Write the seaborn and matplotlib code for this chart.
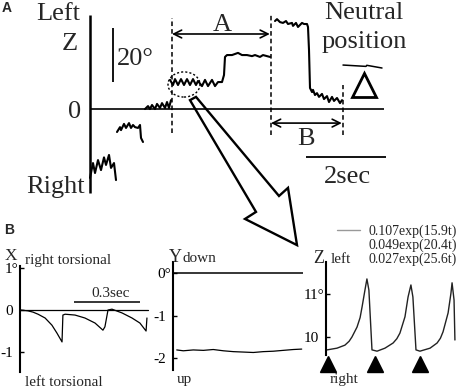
import numpy as np
import pandas as pd
import matplotlib
matplotlib.use('Agg')
import matplotlib.pyplot as plt
import seaborn as sns
from matplotlib.patches import Ellipse, Polygon

# ---------------- data: panel A (time in s, Z angle in deg) ----------------
a_seg1_t = [0.0, 0.075, 0.125, 0.2, 0.275, 0.35, 0.4, 0.475, 0.525, 0.6, 0.65]
a_seg1_z = [-25.7, -20.2, -23.9, -19.1, -22.8, -18.1, -20.9, -17.2, -22.0, -20.2, -26.5]

a_seg2_t = [0.675, 0.75, 0.775, 0.85, 0.9, 0.975, 1.025, 1.075, 1.125, 1.2, 1.25, 1.275, 1.325]
a_seg2_z = [-8.7, -6.9, -8.0, -5.7, -7.2, -5.4, -7.2, -6.1, -6.9, -7.2, -6.1, -10.9, -12.4]

a_seg3_t = [1.375, 1.45, 1.5, 1.55, 1.625, 1.675, 1.75, 1.8, 1.875, 1.925, 1.975, 2.025]
a_seg3_z = [-0.2, 0.9, -0.2, 1.3, -0.2, 1.7, 0.2, 2.0, 0.2, 2.4, 0.2, 3.1]

a_seg4_t = [2.0, 2.075, 2.125, 2.2, 2.275, 2.35, 2.425, 2.5, 2.575, 2.65, 2.7, 2.8, 2.875,
            2.95, 3.05, 3.125, 3.2, 3.3, 3.35, 3.375, 3.425, 3.55, 3.625, 3.7, 3.8, 3.925,
            4.05, 4.125, 4.25, 4.325, 4.425, 4.5]
a_seg4_z = [10.6, 8.7, 10.9, 8.7, 10.9, 8.7, 10.9, 8.7, 10.9, 8.7, 10.2, 8.3, 10.6,
            8.3, 10.6, 8.3, 9.8, 9.8, 12.4, 19.1, 19.8, 19.8, 20.2, 20.6, 19.8, 19.8,
            19.4, 19.8, 19.1, 19.8, 19.4, 19.1]

a_seg5_t = [4.625, 4.675, 4.75, 4.825, 4.9, 4.95, 5.05, 5.075, 5.15, 5.2, 5.3, 5.35, 5.425,
            5.45, 5.475, 5.5, 5.55, 5.575, 5.625, 5.675, 5.725, 5.8, 5.85, 5.925, 5.975,
            6.05, 6.1, 6.175, 6.25, 6.3]
a_seg5_z = [32.4, 33.1, 32.0, 31.7, 32.4, 31.3, 31.7, 30.6, 31.7, 30.2, 31.7, 31.3, 31.3,
            30.2, 21.7, 7.6, 6.1, 6.9, 5.0, 5.7, 4.3, 5.4, 3.5, 4.6, 2.4, 4.3, 2.8, 3.9,
            2.0, 3.1]

a_markers_t = [2.05, 4.525, 6.325]          # dashed event lines (s)
neutral_t = [6.325, 6.9, 6.92, 7.3]          # neutral-position reference line
neutral_z = [16.1, 15.6, 16.0, 15.0]

# ---------------- data: panel B (time in s, angle in deg) ----------------
bx_t = [0.0, 0.036, 0.059, 0.082, 0.114, 0.145, 0.168, 0.191, 0.195, 0.205, 0.25, 0.295,
        0.341, 0.377, 0.386, 0.40, 0.418, 0.464, 0.509, 0.545, 0.573, 0.577]
bx_deg = [0.0, -0.02, -0.05, -0.10, -0.19, -0.36, -0.55, -0.76, -0.12, -0.10, -0.12, -0.19,
          -0.31, -0.48, -0.40, 0.0, 0.02, -0.07, -0.19, -0.31, -0.50, -0.19]

by_t = [0.017, 0.047, 0.092, 0.138, 0.183, 0.229, 0.274, 0.320, 0.365, 0.410, 0.456,
        0.501, 0.547, 0.585]
by_deg = [-1.81, -1.83, -1.81, -1.82, -1.80, -1.83, -1.85, -1.86, -1.87, -1.85, -1.84,
          -1.82, -1.80, -1.79]

bz_t = [0.005, 0.05, 0.086, 0.105, 0.118, 0.141, 0.155, 0.164, 0.177, 0.186, 0.195, 0.209,
        0.232, 0.268, 0.305, 0.322, 0.336, 0.359, 0.373, 0.386, 0.395, 0.409, 0.427, 0.473,
        0.505, 0.52, 0.532, 0.555, 0.568, 0.573, 0.582, 0.586]
bz_deg = [9.70, 9.74, 9.81, 9.90, 10.0, 10.23, 10.45, 10.70, 11.09, 11.35, 11.09, 9.70,
          9.67, 9.74, 9.86, 9.96, 10.09, 10.47, 10.93, 11.21, 10.93, 9.70, 9.67, 9.74,
          9.86, 9.97, 10.12, 10.56, 11.02, 11.26, 10.86, 9.93]
bz_stim_t = [0.009, 0.223, 0.427]

fit_labels = ["0.107exp(15.9t)", "0.049exp(20.4t)", "0.027exp(25.6t)"]

# ---------------- style ----------------
sns.set_theme(style="white")
plt.rcParams['font.family'] = ['Liberation Serif', 'DejaVu Serif']
plt.rcParams['axes.unicode_minus'] = False

W, H = 461, 390
fig = plt.figure(figsize=(W / 100, H / 100), dpi=100)

def px_axes(x0, y0, x1, y1):
    return fig.add_axes([x0 / W, 1 - y1 / H, (x1 - x0) / W, (y1 - y0) / H])

# ---------------- panel A: whole-figure axes in (s, deg) ----------------
axA = fig.add_axes([0, 0, 1, 1])
axA.set_xlim(-2.25, 9.275)
axA.set_ylim(-104.26, 40.19)
axA.axis('off')
axA.patch.set_alpha(0)

for t, z in [(a_seg1_t, a_seg1_z), (a_seg2_t, a_seg2_z), (a_seg3_t, a_seg3_z),
             (a_seg4_t, a_seg4_z), (a_seg5_t, a_seg5_z)]:
    sns.lineplot(x=t, y=z, ax=axA, color='black', lw=1.5, estimator=None, sort=False)

axA.vlines(0, -31.3, 34.6, color='black', lw=1.8)
axA.hlines(0, 0, 7.35, color='black', lw=1.2)

dash = (0, (3, 2))
axA.vlines(a_markers_t[0], -9.1, 33.5, color='black', lw=1.1, linestyles=[dash])
axA.vlines(a_markers_t[1], -9.8, 34.6, color='black', lw=1.1, linestyles=[dash])
axA.vlines(a_markers_t[2], -9.8, 8.7, color='black', lw=1.1, linestyles=[dash])

arr = dict(arrowstyle='<->', lw=1.2, color='black', shrinkA=0, shrinkB=0, mutation_scale=14)
axA.annotate('', xy=(a_markers_t[0], 27.6), xytext=(a_markers_t[1] - 0.03, 27.6), arrowprops=arr)
axA.annotate('', xy=(a_markers_t[1], -5.4), xytext=(a_markers_t[2] - 0.03, -5.4), arrowprops=arr)

fsA = 19
axA.text(3.3, 28.7, "A", fontsize=fsA, ha='center', va='baseline')
axA.text(5.4, -13.5, "B", fontsize=fsA, ha='center', va='baseline')
axA.text(-0.25, 32.8, "Left", fontsize=fsA, ha='right', va='baseline')
axA.text(-0.5, 21.7, "Z", fontsize=fsA, ha='center', va='baseline')
axA.text(-0.375, -3.5, "0", fontsize=fsA, ha='center', va='baseline')
axA.text(-0.125, -31.3, "Right", fontsize=fsA, ha='right', va='baseline')
axA.text(6.85, 33.1, "Neutral", fontsize=fsA, ha='center', va='baseline')
axA.text(6.85, 22.4, "position", fontsize=fsA, ha='center', va='baseline')

# 20 deg scale bar and 2 s scale bar
axA.vlines(0.575, 9.8, 29.8, color='black', lw=1.3)
axA.text(0.675, 16.1, "20°", fontsize=fsA, ha='left', va='baseline')
axA.hlines(-18.0, 5.4, 7.4, color='black', lw=1.3)
axA.text(6.43, -27.6, "2sec", fontsize=fsA, ha='center', va='baseline')

# neutral-position marker
sns.lineplot(x=neutral_t, y=neutral_z, ax=axA, color='black', lw=1.1, estimator=None, sort=False)
axA.plot([6.85], [8.7], marker='^', ms=17, mfc='white', mec='black', mew=2.0, ls='none')

# dotted ellipse and big hollow arrow
axA.add_patch(Ellipse((2.35, 8.9), 0.8, 9.3, fill=False, ec='black', lw=1.0,
                      ls=(0, (1.5, 1.5))))
axA.add_patch(Polygon([(2.5, 3.1), (4.15, -38.3), (3.875, -40.9), (5.175, -50.6),
                       (4.95, -29.4), (4.725, -32.4), (2.65, 4.3)],
                      closed=True, fill=False, ec='black', lw=1.7, joinstyle='miter',
                      clip_on=False, zorder=5))

# panel letters
fig.text(7 / W, 1 - 8 / H, "A", fontsize=10, fontweight='bold', family='Liberation Sans',
          ha='center', va='center')
fig.text(9 / W, 1 - 230 / H, "B", fontsize=10, fontweight='bold', family='Liberation Sans',
          ha='center', va='center')

# ---------------- panel B ----------------
fsB = 11
def style_b(ax, ticks, labels):
    for s in ['top', 'right', 'bottom']:
        ax.spines[s].set_visible(False)
    ax.spines['left'].set_linewidth(1.5)
    ax.spines['left'].set_color('black')
    ax.set_xticks([])
    ax.set_yticks(ticks)
    ax.set_yticklabels(labels)
    ax.tick_params(axis='y', direction='in', length=3, width=1, labelsize=11, pad=5,
                   colors='black', left=True)
    for tk, lb in zip(ax.yaxis.get_major_ticks(), labels):
        if '°' in lb:
            tk.set_pad(1.2)
    ax.patch.set_alpha(0)
    ax.set_xlabel('')
    ax.set_ylabel('')

# X
axX = px_axes(20, 266, 150, 372)
sns.lineplot(x=bx_t, y=bx_deg, ax=axX, color='black', lw=0.9, estimator=None, sort=False)
axX.set_xlim(0, 130 / 220)
axX.set_ylim(-1.476, 1.048)
axX.axhline(0, xmin=0, xmax=128 / 130, color='black', lw=0.9)
style_b(axX, [1, 0, -1], ["1°", "0", "-1"])
axX.hlines(0.19, 0.245, 0.545, color='black', lw=1.1)
axX.text(0.411, 0.31, "0.3sec", fontsize=fsB, ha='center', va='baseline')
axX.text(-0.041, 1.2, "X", fontsize=12.5, ha='center', va='baseline', clip_on=False)
axX.text(0.023, 1.1, "right torsional", fontsize=fsB, ha='left', va='baseline', clip_on=False)
axX.text(0.023, -1.81, "left torsional", fontsize=fsB, ha='left', va='baseline', clip_on=False)

# Y
axY = px_axes(173, 262, 303, 370)
sns.lineplot(x=by_t, y=by_deg, ax=axY, color='black', lw=0.9, estimator=None, sort=False)
axY.set_xlim(0, 130 / 220)
axY.set_ylim(-2.282, 0.259)
axY.axhline(0, color='black', lw=1.1)
style_b(axY, [0, -1, -2], ["0°", "-1", "-2"])
axY.text(0.009, 0.26, "Y", fontsize=13, ha='center', va='baseline', clip_on=False)
axY.text(0.045, 0.26, "down", fontsize=fsB, ha='left', va='baseline', clip_on=False)
axY.text(0.018, -2.59, "up", fontsize=fsB, ha='left', va='baseline', clip_on=False)

# Z
axZ = px_axes(326, 262, 458, 355)
sns.lineplot(x=bz_t, y=bz_deg, ax=axZ, color='#222222', lw=1.0, estimator=None, sort=False)
axZ.set_xlim(0, 132 / 220)
axZ.set_ylim(9.581, 11.744)
style_b(axZ, [11, 10], ["11°", "10"])
axZ.plot(bz_stim_t, [9.38] * len(bz_stim_t), marker='^', ms=12, color='black', ls='none',
         clip_on=False)
axZ.text(-0.059, 11.72, "Z", fontsize=13, ha='left', va='baseline', clip_on=False)
axZ.text(0.023, 11.72, "left", fontsize=fsB, ha='left', va='baseline', clip_on=False)
axZ.text(0.018, 8.93, "right", fontsize=fsB, ha='left', va='baseline', clip_on=False)
axZ.plot([0.05, 0.155], [12.49, 12.49], color='#999999', lw=1.0, clip_on=False)
axZ.text(0.191, 12.62, "\n".join(fit_labels), fontsize=10, ha='left', va='top',
         linespacing=1.05, clip_on=False)

fig.savefig("out.png", dpi=100)
